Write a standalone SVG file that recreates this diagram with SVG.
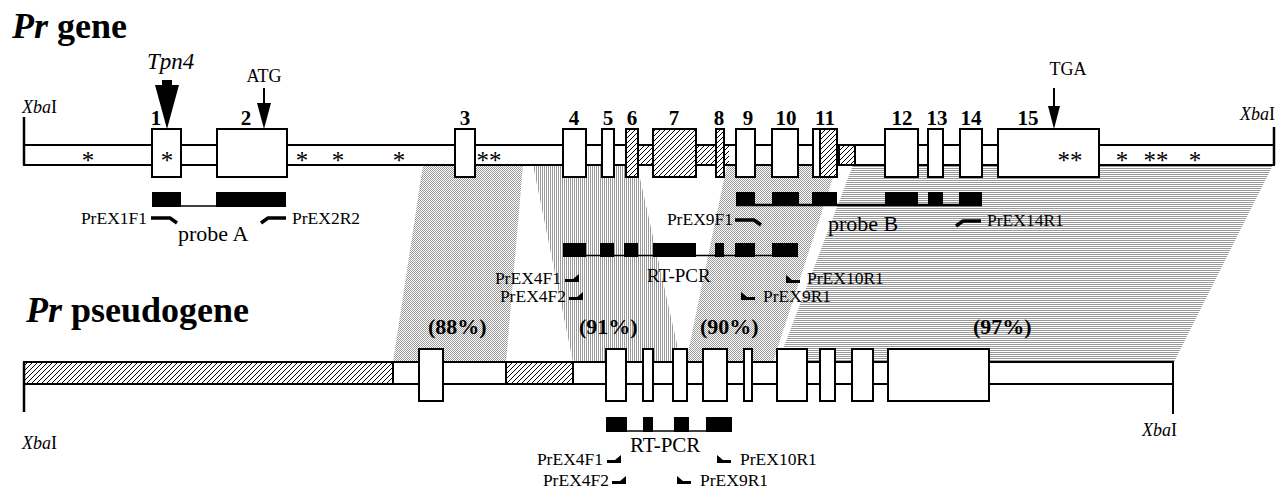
<svg xmlns="http://www.w3.org/2000/svg" xmlns:xlink="http://www.w3.org/1999/xlink" width="1280" height="490" viewBox="0 0 1280 490">
<style>
.t{font-family:"Liberation Serif","Times New Roman",serif;fill:#000}
.ttl{font-size:36px;font-weight:bold}
.num{font-size:21px;font-weight:bold;text-anchor:middle}
.pct{font-size:22px;font-weight:bold}
.lab{font-size:17.5px}
.xba{font-size:18px}
.ast{font-size:25px;text-anchor:middle}
.big{font-size:22px}
.bar{fill:#fff;stroke:#000;stroke-width:2}
.ex{fill:#fff;stroke:#000;stroke-width:2}
.hx{fill:url(#hatch);stroke:#000;stroke-width:2}
.hi{fill:url(#hatch);stroke:none}
.blk{fill:#000}
.ln{stroke:#000;fill:none}
</style>
<defs>
<pattern id="hatch" patternUnits="userSpaceOnUse" width="5" height="5">
<rect width="5" height="5" fill="#fff"/>
<path d="M0,5 L5,0 M-1,1 L1,-1 M4,6 L6,4" stroke="#000" stroke-width="1"/>
</pattern>
<pattern id="dots" patternUnits="userSpaceOnUse" width="2" height="2">
<rect width="1" height="1" fill="#9a9a9a"/>
<rect x="1" y="1" width="1" height="1" fill="#9a9a9a"/>
</pattern>
<pattern id="vlines" patternUnits="userSpaceOnUse" width="2" height="2">
<rect width="1" height="2" fill="#9a9a9a"/>
</pattern>
<pattern id="hlines" patternUnits="userSpaceOnUse" width="2" height="2">
<rect width="2" height="1" fill="#9a9a9a"/>
</pattern>
<path id="tf" d="M0,0 H19 L26,5" fill="none" stroke="#000" stroke-width="3.5"/>
<path id="tr" d="M0,5 L7,0 H25" fill="none" stroke="#000" stroke-width="3.5"/>
<path id="pf" d="M0,2 H14 V-6 L8,-1 H0 Z" fill="#000"/>
<path id="pr" d="M14,2 H0 V-6 L6,-1 H14 Z" fill="#000"/>
</defs>
<rect width="1280" height="490" fill="#fff"/>

<g id="homology">
<polygon points="423,165 523,165 506,362 393,362" fill="url(#dots)"/>
<polygon points="533,165 637,165 681,362 573,362" fill="url(#vlines)"/>
<polygon points="727,165 837,165 773,362 686,362" fill="url(#dots)"/>
<polygon points="853,165 1273,165 1174,362 778,362" fill="url(#hlines)"/>
<text class="t pct" x="428" y="334">(88%)</text>
<text class="t pct" x="579" y="334">(91%)</text>
<text class="t pct" x="700" y="334">(90%)</text>
<text class="t pct" x="973" y="334">(97%)</text>
</g>

<g id="title-gene"><text class="t ttl" x="12" y="38"><tspan font-style="italic">Pr</tspan> gene</text></g>
<g id="title-pseudogene"><text class="t ttl" x="26" y="322"><tspan font-style="italic">Pr</tspan> pseudogene</text></g>

<g id="pr-gene">
<rect class="bar" x="24" y="145" width="1250" height="20"/>
<rect class="hi" x="638" y="146" width="15" height="18"/>
<rect class="hi" x="696" y="146" width="20" height="18"/>
<rect class="hi" x="724" y="146" width="5" height="18"/>
<rect class="hx" x="839" y="145" width="16" height="20"/>
<line class="ln" x1="24" y1="117" x2="24" y2="165" stroke-width="2.5"/>
<line class="ln" x1="1274" y1="127" x2="1274" y2="165" stroke-width="2.5"/>
<text class="t xba" x="22" y="113"><tspan font-style="italic">Xba</tspan>I</text>
<text class="t xba" x="1240" y="120"><tspan font-style="italic">Xba</tspan>I</text>
<g id="exon1"><rect class="ex" x="152" y="129" width="29" height="48"/><text class="t num" x="156" y="125">1</text></g>
<g id="exon2"><rect class="ex" x="217" y="129" width="70" height="48"/><text class="t num" x="246" y="125">2</text></g>
<g id="exon3"><rect class="ex" x="455" y="129" width="20" height="48"/><text class="t num" x="465" y="125">3</text></g>
<g id="exon4"><rect class="ex" x="563" y="129" width="23" height="48"/><text class="t num" x="574" y="125">4</text></g>
<g id="exon5"><rect class="ex" x="602" y="129" width="12" height="48"/><text class="t num" x="608" y="125">5</text></g>
<g id="exon6"><rect class="hx" x="626" y="129" width="12" height="48"/><text class="t num" x="632" y="125">6</text></g>
<g id="exon7"><rect class="hx" x="653" y="129" width="43" height="48"/><text class="t num" x="674" y="125">7</text></g>
<g id="exon8"><rect class="hx" x="716" y="129" width="8" height="48"/><text class="t num" x="719" y="125">8</text></g>
<g id="exon9"><rect class="ex" x="736" y="129" width="19" height="48"/><text class="t num" x="748" y="125">9</text></g>
<g id="exon10"><rect class="ex" x="772" y="129" width="26" height="48"/><text class="t num" x="786" y="125">10</text></g>
<g id="exon11"><rect class="ex" x="813" y="129" width="24" height="48"/><rect class="hx" x="820" y="129" width="17" height="48"/><text class="t num" x="825" y="125">11</text></g>
<g id="exon12"><rect class="ex" x="885" y="129" width="33" height="48"/><text class="t num" x="902" y="125">12</text></g>
<g id="exon13"><rect class="ex" x="928" y="129" width="15" height="48"/><text class="t num" x="937" y="125">13</text></g>
<g id="exon14"><rect class="ex" x="960" y="129" width="22" height="48"/><text class="t num" x="971" y="125">14</text></g>
<g id="exon15"><rect class="ex" x="998" y="129" width="101" height="48"/><text class="t num" x="1028" y="125">15</text></g>
<g id="asterisks">
<text class="t ast" x="88" y="169">*</text>
<text class="t ast" x="167" y="169">*</text>
<text class="t ast" x="302" y="169">*</text>
<text class="t ast" x="338" y="169">*</text>
<text class="t ast" x="399" y="169">*</text>
<text class="t ast" x="489" y="169">**</text>
<text class="t ast" x="1070" y="169">**</text>
<text class="t ast" x="1122" y="169">*</text>
<text class="t ast" x="1156" y="169">**</text>
<text class="t ast" x="1195" y="169">*</text>
</g>
<text class="t" x="147" y="69" font-size="23" font-style="italic">Tpn4</text>
<text class="t xba" x="264" y="82" text-anchor="middle">ATG</text>
<text class="t xba" x="1068" y="75" text-anchor="middle">TGA</text>
</g>

<g id="pr-pseudogene">
<rect class="bar" x="24" y="362" width="1149" height="22"/>
<rect class="hx" x="24" y="362" width="369" height="22"/>
<rect class="hx" x="506" y="362" width="67" height="22"/>
<line class="ln" x1="24" y1="362" x2="24" y2="412" stroke-width="2.5"/>
<line class="ln" x1="1173" y1="384" x2="1173" y2="414" stroke-width="2"/>
<text class="t xba" x="22" y="449"><tspan font-style="italic">Xba</tspan>I</text>
<text class="t xba" x="1142" y="436"><tspan font-style="italic">Xba</tspan>I</text>
<g id="pexon1"><rect class="ex" x="419" y="349" width="24" height="52"/></g>
<g id="pexon2"><rect class="ex" x="606" y="349" width="20" height="52"/></g>
<g id="pexon3"><rect class="ex" x="643" y="349" width="10" height="52"/></g>
<g id="pexon4"><rect class="ex" x="673" y="349" width="14" height="52"/></g>
<g id="pexon5"><rect class="ex" x="703" y="349" width="24" height="52"/></g>
<g id="pexon6"><rect class="ex" x="744" y="349" width="8" height="52"/></g>
<g id="pexon7"><rect class="ex" x="777" y="349" width="30" height="52"/></g>
<g id="pexon8"><rect class="ex" x="820" y="349" width="15" height="52"/></g>
<g id="pexon9"><rect class="ex" x="852" y="349" width="21" height="52"/></g>
<g id="pexon10"><rect class="ex" x="888" y="349" width="101" height="52"/></g>
</g>

<g id="probe-a">
<line class="ln" x1="181" y1="206" x2="217" y2="206" stroke-width="1.5"/>
<rect class="blk" x="152" y="192" width="29" height="15"/>
<rect class="blk" x="216" y="192" width="70" height="15"/>
<text class="t big" x="178" y="241">probe A</text>
</g>

<g id="probe-b">
<line class="ln" x1="736" y1="205" x2="982" y2="205" stroke-width="2.5"/>
<rect class="blk" x="736" y="192" width="19" height="14"/>
<rect class="blk" x="772" y="192" width="27" height="14"/>
<rect class="blk" x="812" y="192" width="25" height="14"/>
<rect class="blk" x="885" y="192" width="33" height="14"/>
<rect class="blk" x="928" y="192" width="15" height="14"/>
<rect class="blk" x="959" y="192" width="23" height="14"/>
<text class="t big" x="828" y="231">probe B</text>
</g>

<g id="rtpcr-gene">
<line class="ln" x1="563" y1="255.5" x2="798" y2="255.5" stroke-width="1.5"/>
<rect class="blk" x="563" y="243" width="23" height="14"/>
<rect class="blk" x="600" y="243" width="14" height="14"/>
<rect class="blk" x="624" y="243" width="14" height="14"/>
<rect class="blk" x="653" y="243" width="43" height="14"/>
<rect class="blk" x="715" y="243" width="9" height="14"/>
<rect class="blk" x="735" y="243" width="20" height="14"/>
<rect class="blk" x="772" y="243" width="26" height="14"/>
<text class="t" x="647" y="282" font-size="19">RT-PCR</text>
</g>

<g id="rtpcr-pseudogene">
<line class="ln" x1="606" y1="431" x2="732" y2="431" stroke-width="1.5"/>
<rect class="blk" x="606" y="417" width="21" height="15"/>
<rect class="blk" x="643" y="417" width="10" height="15"/>
<rect class="blk" x="674" y="417" width="15" height="15"/>
<rect class="blk" x="706" y="417" width="26" height="15"/>
<text class="t" x="630" y="452" font-size="21">RT-PCR</text>
</g>

<g id="primers">
<text class="t lab" x="147" y="224" text-anchor="end">PrEX1F1</text>
<text class="t lab" x="292" y="224">PrEX2R2</text>
<text class="t lab" x="733" y="225" text-anchor="end">PrEX9F1</text>
<text class="t lab" x="987" y="226">PrEX14R1</text>
<text class="t lab" x="561" y="284" text-anchor="end">PrEX4F1</text>
<text class="t lab" x="566" y="302" text-anchor="end">PrEX4F2</text>
<text class="t lab" x="807" y="284">PrEX10R1</text>
<text class="t lab" x="763" y="302">PrEX9R1</text>
<text class="t lab" x="603" y="465" text-anchor="end">PrEX4F1</text>
<text class="t lab" x="609" y="486" text-anchor="end">PrEX4F2</text>
<text class="t lab" x="740" y="465">PrEX10R1</text>
<text class="t lab" x="700" y="486">PrEX9R1</text>
</g>

<g id="connectors">
<use xlink:href="#tf" x="151" y="218"/>
<use xlink:href="#tr" x="261" y="218"/>
<use xlink:href="#tf" x="735" y="220"/>
<use xlink:href="#tr" x="956" y="221"/>
<use xlink:href="#pf" x="565" y="280"/>
<use xlink:href="#pf" x="569" y="298"/>
<use xlink:href="#pr" x="786" y="281"/>
<use xlink:href="#pr" x="741" y="298"/>
<use xlink:href="#pf" x="607" y="461"/>
<use xlink:href="#pf" x="612" y="482"/>
<use xlink:href="#pr" x="717" y="461"/>
<use xlink:href="#pr" x="677" y="482"/>
<g id="tpn4-arrow"><rect class="blk" x="162" y="80" width="10" height="6"/><polygon class="blk" points="155,85 179,85 167,129"/></g>
<g id="atg-arrow"><line class="ln" x1="264" y1="88" x2="264" y2="105" stroke-width="2"/><polygon class="blk" points="257,103 271,103 264,129"/></g>
<g id="tga-arrow"><line class="ln" x1="1054" y1="88" x2="1054" y2="108" stroke-width="2"/><polygon class="blk" points="1048,106 1060,106 1054,129"/></g>
</g>
</svg>
